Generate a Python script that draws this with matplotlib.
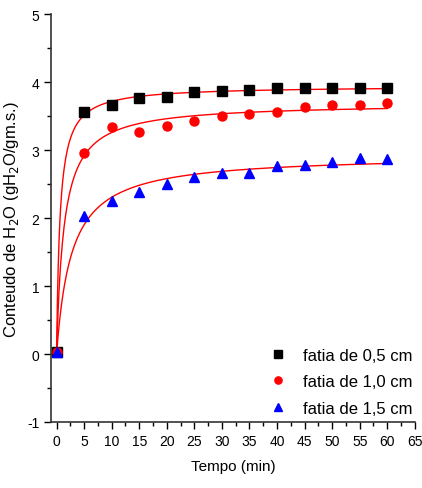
import numpy as np
import matplotlib
matplotlib.use("Agg")
import matplotlib.pyplot as plt
from matplotlib.ticker import MultipleLocator

tempo = [0, 5, 10, 15, 20, 25, 30, 35, 40, 45, 50, 55, 60]
fatia_05 = [0.03, 3.56, 3.66, 3.76, 3.78, 3.85, 3.87, 3.89, 3.91, 3.91, 3.91, 3.91, 3.91]
fatia_10 = [0.03, 2.96, 3.34, 3.27, 3.35, 3.43, 3.50, 3.53, 3.56, 3.63, 3.67, 3.66, 3.69]
fatia_15 = [0.03, 2.03, 2.25, 2.38, 2.50, 2.60, 2.66, 2.67, 2.77, 2.78, 2.83, 2.88, 2.87]
labels = ["fatia de 0,5 cm", "fatia de 1,0 cm", "fatia de 1,5 cm"]

plt.rcParams["font.family"] = ["Liberation Sans Narrow", "Liberation Sans", "DejaVu Sans"]
plt.rcParams["axes.unicode_minus"] = False


def peleg_fit(t, m):
    # Peleg model M = t/(k1 + k2*t), least squares on M via grid search
    t = np.asarray(t, float)[1:]
    m = np.asarray(m, float)[1:]
    k2_0, k1_0 = np.polyfit(t, t / m, 1)
    k1s = np.linspace(k1_0 * 0.3, k1_0 * 3, 300)
    k2s = np.linspace(k2_0 * 0.9, k2_0 * 1.1, 300)
    K1, K2 = np.meshgrid(k1s, k2s)
    pred = t[None, None, :] / (K1[..., None] + K2[..., None] * t[None, None, :])
    err = ((pred - m) ** 2).sum(-1)
    i = np.unravel_index(err.argmin(), err.shape)
    k1, k2 = K1[i], K2[i]
    tt = np.linspace(0, 60, 400)
    return tt, tt / (k1 + k2 * tt)


fig = plt.figure(figsize=(4.22, 4.89), dpi=100)
ax = fig.add_axes([0.121, 0.135, 0.862, 0.834])

series = [(fatia_05, "s", "black"), (fatia_10, "o", "red"), (fatia_15, "^", "blue")]
for (vals, mk, col), lab in zip(series, labels):
    tt, mm = peleg_fit(tempo, vals)
    ax.plot(tt, mm, color="red", lw=1.0, zorder=2)
    ax.plot(tempo, vals, mk, color=col, ms=6.5, ls="none", label=lab, zorder=3)

ax.set_xlim(-1, 65)
ax.set_ylim(-1, 5)
ax.xaxis.set_major_locator(MultipleLocator(5))
ax.xaxis.set_minor_locator(MultipleLocator(2.5))
ax.yaxis.set_major_locator(MultipleLocator(1))
ax.yaxis.set_minor_locator(MultipleLocator(0.5))
ax.spines["top"].set_visible(False)
ax.spines["right"].set_visible(False)
for s in ["left", "bottom"]:
    ax.spines[s].set_linewidth(1.2)
    ax.spines[s].set_color("#333333")
ax.tick_params(which="major", direction="out", length=5, width=1, labelsize=10)
ax.tick_params(which="minor", direction="out", length=3, width=1)

ax.set_xlabel("Tempo (min)", fontsize=11, labelpad=8)
ax.set_ylabel("Conteudo de H$_2$O (gH$_2$O/gm.s.)", fontsize=12,
              family=["Liberation Sans", "DejaVu Sans"])

ax.legend(loc="lower right", bbox_to_anchor=(1.035, -0.022), frameon=False,
          fontsize=12, handletextpad=0.5, labelspacing=0.7, markerscale=0.8)

fig.savefig("out.png", dpi=100)
